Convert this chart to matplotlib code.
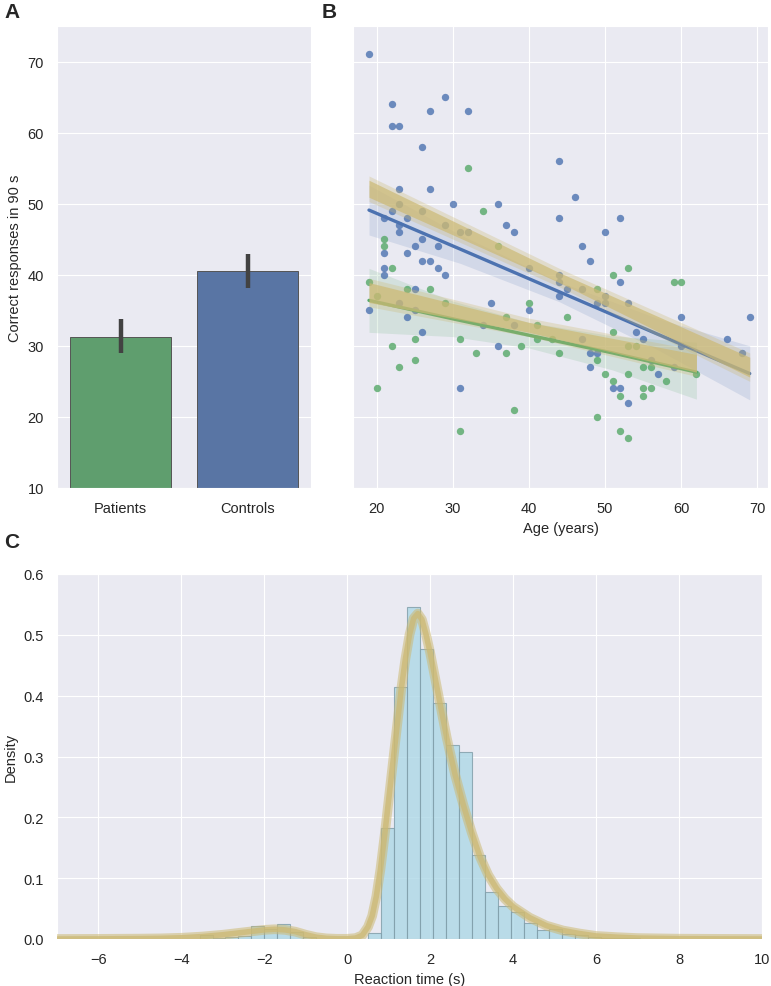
import numpy as np
import matplotlib
matplotlib.use('Agg')
import matplotlib.pyplot as plt
import seaborn as sns

# --- panel A: group means with 95% CI
groups = ['Patients', 'Controls']
group_mean = [31.3, 40.5]
group_ci_lo = [29.0, 38.1]
group_ci_hi = [33.8, 42.9]

# --- panel B: individual scores by age
controls_age = [19, 22, 29, 27, 32, 22, 23, 26, 44, 23, 27, 30, 36, 22, 23, 26,
                44, 21, 24, 23, 23, 29, 37, 38, 31, 32, 26, 28, 25, 21, 24, 26,
                27, 21, 28, 40, 46, 52, 50, 47, 48, 29, 21, 25, 19, 25, 24, 26,
                31, 34, 35, 36, 40, 44, 44, 52, 45, 44, 49, 50, 53, 60, 69, 54,
                55, 66, 60, 48, 49, 68, 56, 48, 59, 57, 51, 52, 53, 23, 38, 47,
                47, 50]
controls_score = [71, 64, 65, 63, 63, 61, 61, 58, 56, 52, 52, 50, 50, 49, 50, 49,
                  48, 48, 48, 47, 46, 47, 47, 46, 46, 46, 45, 44, 44, 43, 43, 42,
                  42, 41, 41, 41, 51, 48, 46, 44, 42, 40, 40, 38, 35, 35, 34, 32,
                  24, 33, 36, 30, 35, 40, 39, 39, 38, 37, 36, 36, 36, 34, 34, 32,
                  31, 31, 30, 29, 29, 29, 28, 27, 27, 26, 24, 24, 22, 36, 33, 31,
                  38, 37]
patients_age = [32, 34, 21, 21, 36, 22, 53, 19, 24, 27, 25, 22, 31, 23, 25, 20,
                31, 33, 37, 38, 39, 40, 41, 43, 44, 51, 59, 60, 49, 45, 51, 49,
                55, 56, 50, 53, 62, 51, 58, 52, 55, 56, 55, 49, 52, 53, 20, 29,
                37, 41, 53, 54]
patients_score = [55, 49, 45, 44, 44, 41, 41, 39, 38, 38, 31, 30, 31, 27, 28, 24,
                  18, 29, 29, 21, 30, 36, 31, 31, 29, 40, 39, 39, 38, 34, 32, 28,
                  27, 27, 26, 26, 26, 25, 25, 23, 24, 24, 23, 20, 18, 17, 37, 36,
                  34, 33, 30, 30]

# regression fits and 95% bands
ctrl_fit_age = [19, 31, 44, 57, 69]
ctrl_fit = [49.1, 43.6, 37.6, 31.6, 26.1]
ctrl_fit_lo = [45.6, 41.6, 36.2, 29.4, 22.4]
ctrl_fit_hi = [52.6, 45.6, 39.0, 33.8, 30.0]
pat_fit_age = [19, 30, 40, 51, 62]
pat_fit = [36.4, 33.8, 31.5, 29.0, 26.3]
pat_fit_lo = [31.9, 31.3, 29.7, 26.6, 22.5]
pat_fit_hi = [40.9, 36.3, 33.3, 31.4, 30.5]

# model predictions (yellow)
ctrl_model_age = [19, 44, 69]
ctrl_model_lo = [50.9, 38.9, 25.6]
ctrl_model_hi = [53.3, 40.3, 28.4]
pat_model_age = [19, 40, 62]
pat_model_lo = [36.1, 31.9, 26.3]
pat_model_hi = [38.9, 33.3, 28.8]

# --- panel C: reaction time histogram and model density
rt_edges = [-3.5625, -3.25, -2.9375, -2.625, -2.3125, -2.0, -1.6875, -1.375,
            -1.0625, -0.75, -0.4375, -0.125, 0.1875, 0.5, 0.8125, 1.125, 1.4375,
            1.75, 2.0625, 2.375, 2.6875, 3.0, 3.3125, 3.625, 3.9375, 4.25,
            4.5625, 4.875, 5.1875, 5.5, 5.8125, 6.125, 6.4375, 6.75, 7.0625]
rt_density = [0.007, 0.002, 0.004, 0.005, 0.021, 0.016, 0.024, 0.011, 0.003,
              0.0, 0.0, 0.0, 0.0, 0.010, 0.183, 0.414, 0.546, 0.477, 0.388, 0.319,
              0.307, 0.138, 0.078, 0.055, 0.045, 0.027, 0.014, 0.017, 0.008,
              0.006, 0.003, 0.002, 0.001, 0.001]
kde_x = [-7.0, -6.0, -5.0, -4.5, -4.0, -3.5, -3.0, -2.5, -2.25, -2.0, -1.75,
         -1.5, -1.25, -1.0, -0.75, -0.5, -0.25, 0.0, 0.2, 0.36, 0.5, 0.6, 0.7,
         0.8, 0.9, 1.0, 1.1, 1.2, 1.3, 1.4, 1.5, 1.6, 1.7, 1.8, 1.9, 2.0, 2.2,
         2.4, 2.6, 2.8, 3.0, 3.2, 3.4, 3.6, 3.8, 4.0, 4.4, 4.8, 5.2, 5.6, 6.0,
         6.5, 7.0, 8.0, 9.0, 10.0]
kde_y = [0.0, 0.0002, 0.0006, 0.001, 0.002, 0.004, 0.007, 0.011, 0.013, 0.015,
         0.016, 0.015, 0.012, 0.007, 0.003, 0.001, 0.0003, 0.0003, 0.0015,
         0.006, 0.02, 0.038, 0.07, 0.115, 0.17, 0.23, 0.29, 0.35, 0.41, 0.46,
         0.50, 0.527, 0.535, 0.525, 0.50, 0.47, 0.40, 0.33, 0.27, 0.22, 0.175,
         0.135, 0.105, 0.083, 0.066, 0.053, 0.035, 0.022, 0.014, 0.009, 0.005,
         0.003, 0.0015, 0.0005, 0.0002, 0.0]

sns.set_style('darkgrid')
plt.rcParams['font.family'] = ['Liberation Sans', 'DejaVu Sans']
plt.rcParams['font.size'] = 10.5

blue = '#4C72B0'
green = '#55A868'
yellow = '#CCB974'

W, H = 771, 987
fig = plt.figure(figsize=(W / 100, H / 100), dpi=100)
axA = fig.add_axes([57 / W, 1 - 489 / H, 254 / W, 462 / H])
axB = fig.add_axes([353 / W, 1 - 489 / H, 415 / W, 462 / H], sharey=axA)
axC = fig.add_axes([57 / W, 1 - 940 / H, 705 / W, 365 / H])

# A
xpos = np.arange(len(groups))
axA.bar(xpos, group_mean, width=0.8, color=['#5f9e6e', '#5975a4'],
        edgecolor='#555555', linewidth=0.7, zorder=2)
axA.vlines(xpos, group_ci_lo, group_ci_hi, color='#424242', lw=3.2, zorder=3)
axA.set_xlim(-0.5, 1.5)
axA.set_ylim(10, 75)
axA.set_yticks(np.arange(10, 71, 10))
axA.set_xticks(xpos)
axA.set_xticklabels(groups)
axA.set_ylabel('Correct responses in 90 s', fontsize=10.5)
axA.tick_params(labelsize=10.5, pad=6)
axA.grid(axis='x', visible=False)

# B
axB.fill_between(ctrl_fit_age, ctrl_fit_lo, ctrl_fit_hi, color=blue, alpha=0.15, lw=0, zorder=2)
axB.fill_between(pat_fit_age, pat_fit_lo, pat_fit_hi, color=green, alpha=0.15, lw=0, zorder=2)
axB.scatter(controls_age, controls_score, s=28, color=blue, alpha=0.8, lw=0, zorder=3)
axB.scatter(patients_age, patients_score, s=28, color=green, alpha=0.8, lw=0, zorder=3)
axB.plot(ctrl_fit_age, ctrl_fit, color=blue, lw=2.4, zorder=4)
axB.plot(pat_fit_age, pat_fit, color=green, lw=2.4, zorder=4)
for a, lo, hi in [(ctrl_model_age, ctrl_model_lo, ctrl_model_hi),
                  (pat_model_age, pat_model_lo, pat_model_hi)]:
    lo, hi = np.array(lo), np.array(hi)
    axB.fill_between(a, lo - 0.6, hi + 0.6, color=yellow, alpha=0.3, lw=0, zorder=5)
    axB.fill_between(a, lo, hi, color=yellow, alpha=0.7, lw=0, zorder=5)
axB.set_xlim(16.9, 71.4)
axB.set_xticks(np.arange(20, 71, 10))
axB.set_xlabel('Age (years)', fontsize=10.5)
axB.tick_params(labelsize=10.5, pad=6)
plt.setp(axB.get_yticklabels(), visible=False)

# C
edges = np.array(rt_edges)
dens = np.array(rt_density)
keep = dens > 0
axC.bar(edges[:-1][keep], dens[keep], width=np.diff(edges)[keep], align='edge',
        color='#add8e6', alpha=0.8, edgecolor='#7f9ca8', linewidth=0.8, zorder=2)
axC.plot(kde_x, kde_y, color=yellow, lw=7, alpha=0.55, zorder=3)
axC.plot(kde_x, kde_y, color=yellow, lw=4, alpha=0.75, zorder=3)
axC.set_xlim(-7, 10)
axC.set_ylim(0, 0.6)
axC.set_xticks(np.arange(-6, 11, 2))
axC.set_xticklabels([str(v).replace('-', '\u2212') for v in range(-6, 11, 2)])
axC.set_yticks(np.arange(0, 0.61, 0.1))
axC.set_yticklabels(['%.1f' % v for v in np.arange(0, 0.61, 0.1)])
axC.set_xlabel('Reaction time (s)', fontsize=10.5)
axC.set_ylabel('Density', fontsize=10.5)
axC.tick_params(labelsize=10.5, pad=6)

for ax in (axA, axB, axC):
    ax.set_axisbelow(True)

fig.text(4 / W, 1 - 12 / H, 'A', fontsize=15, fontweight='bold', va='center')
fig.text(322 / W, 1 - 12 / H, 'B', fontsize=15, fontweight='bold', va='center')
fig.text(4 / W, 1 - 543 / H, 'C', fontsize=15, fontweight='bold', va='center')

fig.savefig('out.png', dpi=100)
